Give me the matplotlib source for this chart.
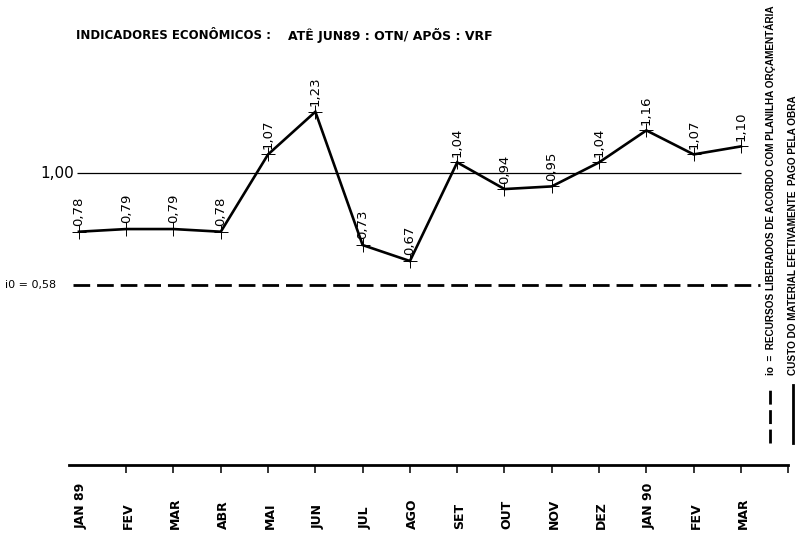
import matplotlib
matplotlib.use("Agg")
import matplotlib.pyplot as plt
import matplotlib.transforms as mtransforms
from matplotlib.lines import Line2D

# months on the x axis
months = ["JAN 89", "FEV", "MAR", "ABR", "MAI", "JUN", "JUL", "AGO",
          "SET", "OUT", "NOV", "DEZ", "JAN 90", "FEV", "MAR"]
# custo do material / recursos liberados
values = [0.78, 0.79, 0.79, 0.78, 1.07, 1.23, 0.73, 0.67,
          1.04, 0.94, 0.95, 1.04, 1.16, 1.07, 1.10]
value_labels = ["0,78", "0,79", "0,79", "0,78", "1,07", "1,23", "0,73", "0,67",
                "1,04", "0,94", "0,95", "1,04", "1,16", "1,07", "1,10"]
ref_level = 1.00
io_level = 0.58

title_left = "INDICADORES ECONÔMICOS :"
title_right = "ATÊ JUN89 : OTN/ APÕS : VRF"
legend_io = "io  =  RECURSOS LIBERADOS DE ACORDO COM PLANILHA ORÇAMENTÁRIA"
legend_custo = "CUSTO DO MATERIAL EFETIVAMENTE  PAGO PELA OBRA"

plt.rcParams["font.family"] = ["DejaVu Sans"]

fig = plt.figure(figsize=(8, 5.34), dpi=100)
ax = fig.add_axes([0.08625, 0.1292, 0.899, 0.7584])

x = list(range(len(months)))

# reference lines
ax.hlines(ref_level, -0.05, len(months) - 1, color="black", linewidth=0.9)
ax.hlines(io_level, -0.12, 14.4, color="black", linewidth=2.0,
          linestyles=(0, (6, 2.5)))

# main series
ax.plot(x, values, color="black", linewidth=1.9, solid_joinstyle="miter")
ax.plot(x, values, linestyle="none", marker="+", markersize=10,
        markeredgewidth=0.7, color="black")

for xi, v, lab in zip(x, values, value_labels):
    ax.annotate(lab, (xi, v), xytext=(0, 4), textcoords="offset points",
                rotation=90, ha="center", va="bottom", fontsize=9.5)

ax.set_xlim(-0.21, len(months))
ax.set_ylim(-0.095, 1.424)

# x axis: ticks between months, labels drawn as text
ax.set_xticks(list(range(1, len(months))) + [len(months)])
ax.set_xticklabels([])
ax.tick_params(axis="x", direction="out", length=6, width=1.1)
ax.set_yticks([])
for side in ["top", "left", "right"]:
    ax.spines[side].set_visible(False)
ax.spines["bottom"].set_linewidth(2)

trans = mtransforms.blended_transform_factory(ax.transData, ax.transAxes)
for xi, m in zip(x, months):
    ax.text(xi + 0.05, -0.157, m, transform=trans, rotation=90,
            ha="center", va="bottom", fontsize=9, fontweight="bold")

# level labels on the left
trans_y = mtransforms.blended_transform_factory(fig.transFigure, ax.transData)
ax.text(74 / 800, ref_level, "1,00", transform=trans_y, ha="right",
        va="center", fontsize=11)
ax.text(5 / 800, io_level, "i0 = 0,58", transform=trans_y, ha="left",
        va="center", fontsize=8)

# title
fig.text(76 / 800, 1 - 36 / 534, title_left, ha="left", va="center",
         fontsize=8.5, fontweight="bold")
fig.text(288 / 800, 1 - 36 / 534, title_right, ha="left", va="center",
         fontsize=9, fontweight="bold")

# legend on the right
fig.add_artist(Line2D([770 / 800, 770 / 800], [1 - 443 / 534, 1 - 385 / 534],
                      color="black", linewidth=2, linestyle=(0, (5, 2))))
fig.add_artist(Line2D([793 / 800, 793 / 800], [1 - 443 / 534, 1 - 385 / 534],
                      color="black", linewidth=2))
fig.text(770 / 800, 1 - 375 / 534, legend_io, rotation=90, ha="center",
         va="bottom", fontsize=7.2, fontweight="bold", family="Liberation Sans")
fig.text(793 / 800, 1 - 375 / 534, legend_custo, rotation=90, ha="center",
         va="bottom", fontsize=7.2, fontweight="bold", family="Liberation Sans")

fig.savefig("out.png", dpi=100)
